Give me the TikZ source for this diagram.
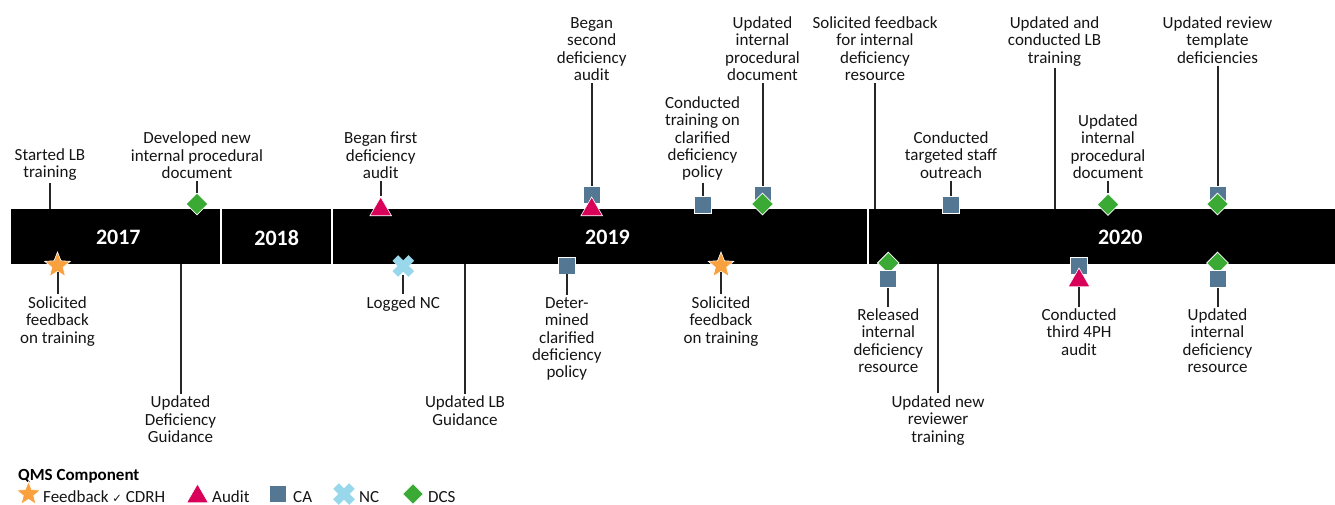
\documentclass[tikz,border=0pt]{standalone}
\usepackage{fontspec}
\setmainfont{Carlito}
\newfontfamily\symfont{DejaVu Sans}
\usetikzlibrary{shapes.geometric}
\definecolor{caBlue}{RGB}{84,120,148}
\definecolor{dcsGreen}{RGB}{58,170,53}
\definecolor{auditRed}{RGB}{217,0,90}
\definecolor{fbOrange}{RGB}{249,160,63}
\definecolor{ncBlue}{RGB}{153,216,234}
\tikzset{
  lbl/.style={align=center, font=\fontsize{17}{17.4}\selectfont, inner sep=2pt, text=black!92},
  lgtext/.style={anchor=base west, inner sep=0pt, font=\fontsize{17}{17.4}\selectfont, text=black!92},
  stem/.style={line width=2pt, black!85},
  camark/.style={rectangle, fill=caBlue, draw=white, line width=0.8pt, minimum size=17pt, inner sep=0pt},
  dcsmark/.style={diamond, fill=dcsGreen, draw=white, line width=0.8pt, minimum width=22pt, minimum height=22pt, inner sep=0pt},
  auditmark/.style={regular polygon, regular polygon sides=3, fill=auditRed, draw=white, line width=0.6pt, minimum size=25pt, inner sep=0pt},
  fbmark/.style={star, star points=5, star point ratio=2.3, fill=fbOrange, draw=white, line width=0.6pt, minimum size=27pt, inner sep=0pt},
  ncmark/.style={circle, minimum size=16pt, inner sep=0pt},
  ncx/.style={ncBlue, line width=8pt},
  yearlbl/.style={text=white, font=\fontsize{22}{24}\selectfont\bfseries},
  divider/.style={white, line width=2pt},
}
\begin{document}
\begin{tikzpicture}[x=1pt,y=-1pt]
\useasboundingbox (0,0) rectangle (1335,504);

% bar
\node[fill=black, minimum width=1324pt, minimum height=55pt, inner sep=0pt, anchor=north west] (bar) at (11,208.5) {};
\draw[divider] (220.7,0 |- bar.north) -- (220.7,0 |- bar.south);
\draw[divider] (332.3,0 |- bar.north) -- (332.3,0 |- bar.south);
\draw[divider] (867.7,0 |- bar.north) -- (867.7,0 |- bar.south);
\node[yearlbl] (y17) at (118.3,237.5) {2017};
\node[yearlbl] (y18) at (276.7,237.5) {2018};
\node[yearlbl] (y19) at (607.5,237.5) {2019};
\node[yearlbl] (y20) at (1120.3,237.5) {2020};

% ---- top events ----
\node[lbl, anchor=base] (t1) at (50,177.9) {Started LB\\training};
\draw[stem] (t1) -- (t1 |- bar.north);

\node[lbl, anchor=base] (t2) at (197,178.6) {Developed new\\internal procedural\\document};
\node[dcsmark] (m2) at (197,204) {};
\draw[stem] (t2) -- (m2);

\node[lbl, anchor=base] (t3) at (380.7,178.6) {Began first\\deficiency\\audit};
\node[auditmark] (m3) at (380.7,209.5) {};
\draw[stem] (t3) -- (m3);

\node[lbl, anchor=base] (t4) at (591.7,80.7) {Began\\second\\deficiency\\audit};
\node[camark] (m4s) at (591.7,194.5) {};
\node[auditmark] (m4a) at (591.7,209.5) {};
\draw[stem] (t4) -- (m4s);

\node[lbl, anchor=base] (t5) at (702.5,177.8) {Conducted\\training on\\clarified\\deficiency\\policy};
\node[camark] (m5) at (702.5,205) {};
\draw[stem] (t5) -- (m5);

\node[lbl, anchor=base] (t6) at (762.5,80.7) {Updated\\internal\\procedural\\document};
\node[camark] (m6s) at (762.5,194.5) {};
\node[dcsmark] (m6d) at (762.5,204) {};
\draw[stem] (t6) -- (m6s);

\node[lbl, anchor=base] (t7) at (875,80.7) {Solicited feedback\\for internal\\deficiency\\resource};
\draw[stem] (t7) -- (t7 |- bar.north);

\node[lbl, anchor=base] (t8) at (951,178.3) {Conducted\\targeted staff\\outreach};
\node[camark] (m8) at (951,205) {};
\draw[stem] (t8) -- (m8);

\node[lbl, anchor=base] (t9) at (1054.5,63.3) {Updated and\\conducted LB\\training};
\draw[stem] (t9) -- (t9 |- bar.north);

\node[lbl, anchor=base] (t10) at (1108,178.4) {Updated\\internal\\procedural\\document};
\node[dcsmark] (m10) at (1108,204.5) {};
\draw[stem] (t10) -- (m10);

\node[lbl, anchor=base] (t11) at (1217.5,63.3) {Updated review\\template\\deficiencies};
\node[camark] (m11s) at (1217.5,194.5) {};
\node[dcsmark] (m11d) at (1217.5,204) {};
\draw[stem] (t11) -- (m11s);

% ---- bottom events ----
\node[fbmark] (n1) at (57.5,265.5) {};
\node[lbl, anchor=base] (b1) at (57.5,343) {Solicited\\feedback\\on training};
\draw[stem] (n1) -- (b1);

\node[lbl, anchor=base] (b2) at (180.5,442.6) {Updated\\Deficiency\\Guidance};
\draw[stem] (b2 |- bar.south) -- (b2);

\node[ncmark] (n3) at (403.3,266) {};
\draw[ncx] ([shift={(-8,-8)}]n3.center) -- ([shift={(8,8)}]n3.center);
\draw[ncx] ([shift={(-8,8)}]n3.center) -- ([shift={(8,-8)}]n3.center);
\node[lbl, anchor=base] (b3) at (403.3,308.2) {Logged NC};
\draw[stem] ([yshift=-9pt]n3.center) -- (b3);

\node[lbl, anchor=base] (b4) at (465,425.2) {Updated LB\\Guidance};
\draw[stem] (b4 |- bar.south) -- (b4);

\node[camark] (n5) at (566.8,265.5) {};
\node[lbl, anchor=base] (b5) at (566.8,377.8) {Deter-\\mined\\clarified\\deficiency\\policy};
\draw[stem] (n5) -- (b5);

\node[fbmark] (n6) at (721,265.5) {};
\node[lbl, anchor=base] (b6) at (721,343) {Solicited\\feedback\\on training};
\draw[stem] (n6) -- (b6);

\node[dcsmark] (n7d) at (888.3,263) {};
\node[camark] (n7s) at (888.3,279) {};
\node[lbl, anchor=base] (b7) at (888.3,372.7) {Released\\internal\\deficiency\\resource};
\draw[stem] (n7s) -- (b7);

\node[lbl, anchor=base] (b8) at (938,442) {Updated new\\reviewer\\training};
\draw[stem] (b8 |- bar.south) -- (b8);

\node[camark] (n9s) at (1079,265.5) {};
\node[auditmark] (n9a) at (1079,280.5) {};
\node[lbl, anchor=base] (b9) at (1079,355.3) {Conducted\\third 4PH\\audit};
\draw[stem] (n9a) -- (b9);

\node[dcsmark] (n10d) at (1217.5,263) {};
\node[camark] (n10s) at (1217.5,279) {};
\node[lbl, anchor=base] (b10) at (1217.5,372.7) {Updated\\internal\\deficiency\\resource};
\draw[stem] (n10s) -- (b10);

% ---- legend ----
\node[anchor=base west, inner sep=0pt, font=\fontsize{17}{17.4}\selectfont\bfseries, text=black] (lgtitle) at (18,480) {QMS Component};
\node[fbmark, minimum size=25pt] (lfb) at (28.5,494) {};
\node[lgtext] (lfbt) at (43,502) {Feedback {\symfont\fontsize{11.5}{12}\selectfont ✓} CDRH};
\node[auditmark, minimum size=25pt] (lau) at (197.5,496.5) {};
\node[lgtext] (laut) at (212,502) {Audit};
\node[camark] (lca) at (278,494) {};
\node[lgtext] (lcat) at (293,502) {CA};
\node[ncmark] (lnc) at (344,494) {};
\draw[ncx] ([shift={(-8,-8)}]lnc.center) -- ([shift={(8,8)}]lnc.center);
\draw[ncx] ([shift={(-8,8)}]lnc.center) -- ([shift={(8,-8)}]lnc.center);
\node[lgtext] (lnct) at (359,502) {NC};
\node[dcsmark, minimum width=21pt, minimum height=21pt] (ldcs) at (413,494) {};
\node[lgtext] (ldcst) at (428,502) {DCS};
\end{tikzpicture}
\end{document}
